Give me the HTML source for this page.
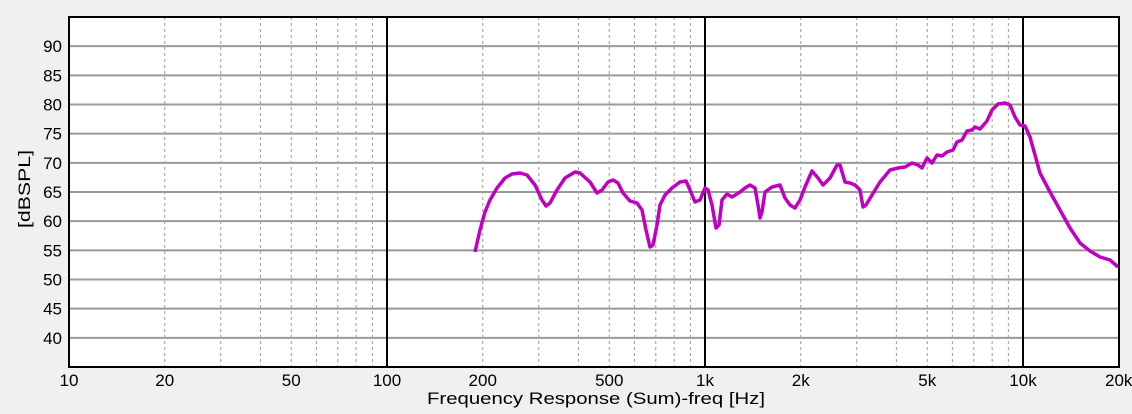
<!DOCTYPE html>
<html><head><meta charset="utf-8"><style>
html,body{margin:0;padding:0;background:#f0f0f0;width:1132px;height:414px;overflow:hidden}
svg{display:block;font-family:"Liberation Sans",sans-serif}
</style></head><body>
<svg width="1132" height="414" xmlns="http://www.w3.org/2000/svg">
<rect x="69" y="17" width="1050" height="350" fill="#fff"/>
<g id="grid"></g>
<polyline fill="none" stroke="#c000c0" stroke-width="3.5" stroke-linejoin="round" points="475,252 480,230 485,212 490,200 497,188 505,178 512,174 520,173 527,175 535,185 542,200 546,206 550,203 557,190 565,178 575,172 580,173 590,182 597,193 602,190 608,182 613,180 618,183 623,193 630,201 637,203 642,210 646,230 650,247 653,245 657,225 660,205 665,195 672,188 680,182 686,181 690,190 695,202 700,200 705,188 708,190 712,205 716,228 719,225 722,200 727,194 732,197 740,192 745,188 750,185 755,188 758,205 760,218 762,212 765,192 772,187 780,185 785,198 790,205 795,208 800,200 805,187 812,171 818,178 823,185 830,178 837,165 840,165 845,182 850,183 855,185 860,190 863,207 866,205 872,195 880,182 890,170 898,168 905,167 912,163 918,165 922,168 927,158 932,163 937,155 942,156 947,152 953,150 957,142 962,140 967,131 972,130 975,127 980,129 987,121 992,110 998,104 1005,103 1010,105 1015,117 1020,125 1025,126 1030,137 1035,155 1040,173 1050,192 1060,210 1070,228 1080,243 1090,251 1100,257 1110,260 1118,267"/>
<rect x="69" y="17" width="1050" height="350" fill="none" stroke="#000" stroke-width="2"/>
<g font-size="17" fill="#000" text-anchor="end" id="yl"></g>
<g font-size="17" fill="#000" text-anchor="middle" id="xl"></g>
<text x="427" y="404" font-size="17" textLength="338" lengthAdjust="spacingAndGlyphs">Frequency Response (Sum)-freq [Hz]</text>
<text transform="translate(30,189) rotate(-90)" font-size="17" text-anchor="middle" textLength="78" lengthAdjust="spacingAndGlyphs">[dBSPL]</text>
</svg>
<script>
const ns="http://www.w3.org/2000/svg",g=document.getElementById('grid');
function el(p,t,a,txt){const e=document.createElementNS(ns,t);for(const k in a)e.setAttribute(k,a[k]);if(txt)e.textContent=txt;p.appendChild(e);}
const X=f=>69+318*Math.log10(f/10),Y=d=>17+(95-d)*350/60;
for(let d=40;d<=90;d+=5){el(g,'line',{x1:69,x2:1119,y1:Y(d),y2:Y(d),stroke:'#999','stroke-width':2});el(document.getElementById('yl'),'text',{x:62,y:Y(d)+6},String(d));}
for(let dec=10;dec<=10000;dec*=10)for(let m=1;m<10;m++){const f=dec*m;if(f>20000)break;const x=X(f);
if(m==1){if(f>10)el(g,'line',{x1:x,x2:x,y1:17,y2:367,stroke:'#000','stroke-width':2});}
else el(g,'line',{x1:x,x2:x,y1:17,y2:367,stroke:'#aaa','stroke-width':1.2,'stroke-dasharray':'3,3'});}
const lab=[[10,'10'],[20,'20'],[50,'50'],[100,'100'],[200,'200'],[500,'500'],[1000,'1k'],[2000,'2k'],[5000,'5k'],[10000,'10k'],[20000,'20k']];
lab.forEach(([f,t])=>el(document.getElementById('xl'),'text',{x:X(f),y:386},t));
</script>
</body></html>
